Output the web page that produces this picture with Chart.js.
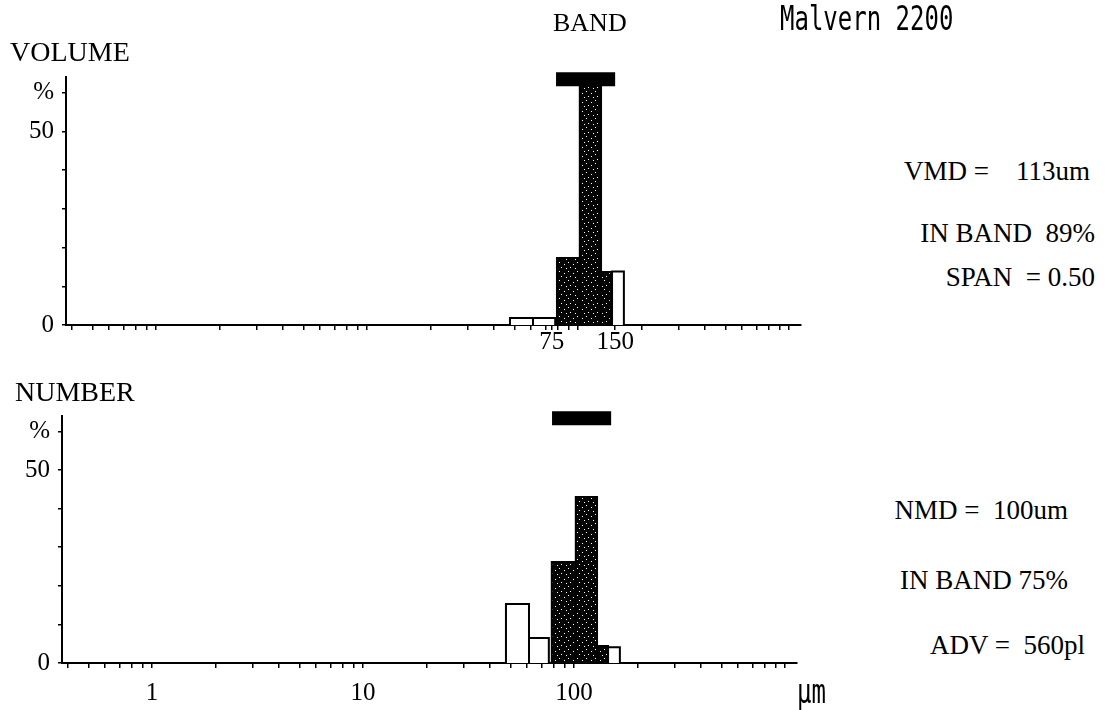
<!DOCTYPE html>
<html>
<head>
<meta charset="utf-8">
<script src="https://cdn.jsdelivr.net/npm/chart.js@4.4.1/dist/chart.umd.min.js"></script>
<style>
body { margin:0; background:#fff; width:1109px; height:710px; position:relative; overflow:hidden; font-family:"Liberation Serif", serif; color:#000; }
canvas { position:absolute; left:0; }
.t { position:absolute; line-height:1; white-space:pre; }
.big { font-size:28px; }
.side { font-size:27px; }
.mono { font-family:"DejaVu Sans Mono", monospace; font-size:24px; transform:scaleY(1.43); transform-origin:0 0; }
</style>
</head>
<body>
<canvas id="volume-chart" width="850" height="365" style="top:0"></canvas>
<canvas id="number-chart" width="850" height="350" style="top:360px"></canvas>

<div class="t mono" style="left:780px;top:1px">Malvern 2200</div>
<div class="t" style="left:553px;top:10px;font-size:26px">BAND</div>
<div class="t big" style="left:10px;top:38px">VOLUME</div>
<div class="t big" style="left:15px;top:378px">NUMBER</div>

<div class="t side" style="right:19px;top:158px">VMD =    113um</div>
<div class="t side" style="right:14px;top:220px">IN BAND  89%</div>
<div class="t side" style="right:14px;top:264px">SPAN  = 0.50</div>
<div class="t side" style="right:41px;top:497px">NMD =  100um</div>
<div class="t side" style="right:41px;top:567px">IN BAND 75%</div>
<div class="t side" style="right:24px;top:632px">ADV =  560pl</div>
<div class="t mono" style="left:797px;top:674px">µm</div>

<script>
// size bins (um) and % in each
var volLo  = [47.6, 61.2, 79.5, 102, 128.6, 145];
var volHi  = [61.2, 78, 102, 128.6, 143, 165];
var volPct = [1.8, 1.8, 17.3, 62, 13.7, 13.8];
var volInBand = [0, 0, 1, 1, 1, 0];

var numLo  = [47.6, 61.2, 78.5, 102, 128.6, 145];
var numHi  = [61.2, 76, 102, 128.6, 145, 165];
var numPct = [15.3, 6.5, 26.2, 43, 4.4, 4.1];
var numInBand = [0, 0, 1, 1, 1, 0];

// band marker drawn above each histogram
var bandEdges = [78.7, 150];
var bandLevel = 63.4;

// axes
var xMin = 0.3746, xMax = 1140;
var xTickMarks = [0.4, 0.5, 0.6, 0.7, 0.8, 0.9, 1, 2, 3, 4, 5, 6, 7, 8, 9,
                  10, 20, 30, 40, 50, 60, 70, 80, 90, 100, 200, 300, 400, 500, 600, 700, 800, 900, 1000];
var volXTicks = [75, 150];
var volXText = ['75', '150'];
var numXTicks = [1, 10, 100];
var numXText = ['1', '10', '100'];
var yTickMarks = [0, 10, 20, 30, 40, 50, 60];
var yTicks = [0, 50, 60];
var yText = ['0', '50', '%'];

// black with white speckle, like the printout
var pc = document.createElement('canvas');
pc.width = 9; pc.height = 9;
var g = pc.getContext('2d');
g.fillStyle = '#050505';
g.fillRect(0, 0, 9, 9);
g.fillStyle = '#fff';
[[1, 1], [6, 3], [3, 6], [8, 7]].forEach(function (p) { g.fillRect(p[0], p[1], 1, 1); });
var speckle = g.createPattern(pc, 'repeat');

var serif = '"Liberation Serif", serif';

function barSets(lo, hi, pct, inBand) {
    var sets = [{
        data: [{x: bandEdges[0], y: bandLevel}, {x: bandEdges[1], y: bandLevel}],
        borderColor: '#000', borderWidth: 14, borderCapStyle: 'butt',
        fill: false, pointRadius: 0, clip: false
    }];
    pct.forEach(function (v, i) {
        sets.push({
            data: [{x: lo[i], y: 0}, {x: lo[i], y: v}, {x: hi[i], y: v}, {x: hi[i], y: 0}],
            borderColor: '#000', borderWidth: 2,
            backgroundColor: inBand[i] ? speckle : '#fff',
            fill: 'origin', pointRadius: 0, tension: 0
        });
    });
    return sets;
}

function chartOptions(yw, padTop, padRight, xh, xTicks, xText, xPad) {
    return {
        responsive: false, animation: false, events: [],
        layout: {padding: {left: 0, top: padTop, right: padRight, bottom: 0}},
        plugins: {legend: {display: false}, tooltip: {enabled: false}},
        scales: {
            x: {
                type: 'logarithmic', min: xMin, max: xMax,
                afterFit: function (s) { s.height = xh; },
                afterBuildTicks: function (s) {
                    var all = Array.from(new Set(xTickMarks.concat(xTicks))).sort(function (a, b) { return a - b; });
                    s.ticks = all.map(function (v) { return {value: v}; });
                },
                grid: {drawOnChartArea: false, color: '#000', tickLength: 5, lineWidth: 1.5},
                border: {color: '#000', width: 2},
                ticks: {
                    autoSkip: false, maxRotation: 0, padding: xPad, color: '#000',
                    font: {family: serif, size: 25},
                    callback: function (v) { var i = xTicks.indexOf(v); return i < 0 ? '' : xText[i]; }
                }
            },
            y: {
                min: 0, max: 64,
                afterFit: function (s) { s.width = yw; },
                afterBuildTicks: function (s) { s.ticks = yTickMarks.map(function (v) { return {value: v}; }); },
                grid: {drawOnChartArea: false, color: '#000', tickLength: 4, lineWidth: 1.5},
                border: {color: '#000', width: 2},
                ticks: {
                    padding: 8, color: '#000', font: {family: serif, size: 25},
                    callback: function (v) { var i = yTicks.indexOf(v); return i < 0 ? '' : yText[i]; }
                }
            }
        }
    };
}

new Chart(document.getElementById('volume-chart'), {
    type: 'line',
    data: {datasets: barSets(volLo, volHi, volPct, volInBand)},
    options: chartOptions(66, 77, 49, 40, volXTicks, volXText, -3)
});

new Chart(document.getElementById('number-chart'), {
    type: 'line',
    data: {datasets: barSets(numLo, numHi, numPct, numInBand)},
    options: chartOptions(62, 56, 53, 47, numXTicks, numXText, 10)
});
</script>
</body>
</html>
